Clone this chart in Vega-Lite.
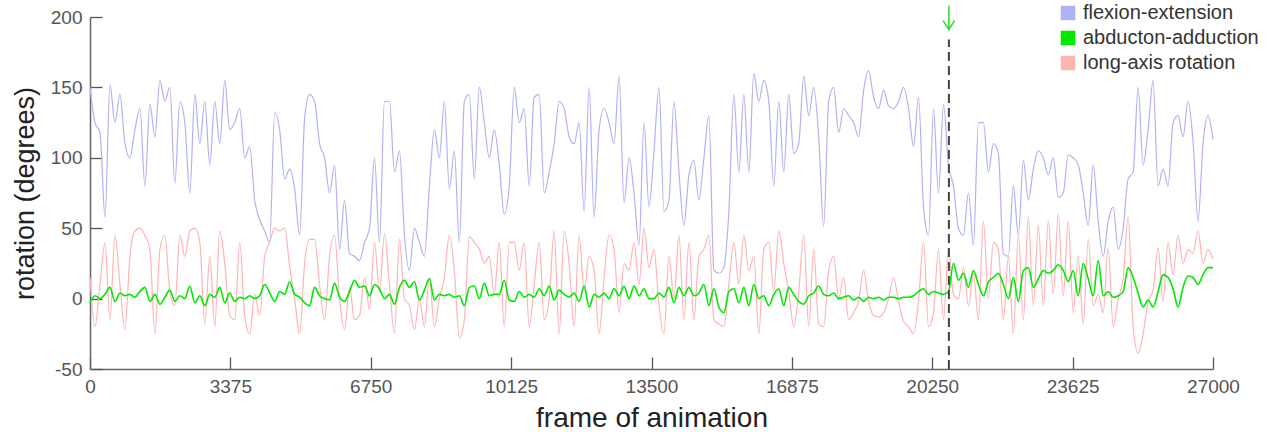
{
"$schema":"https://vega.github.io/schema/vega-lite/v6.json",
"width":1123,"height":352,
"autosize":{"type":"none"},
"padding":{"left":90,"top":17,"right":56,"bottom":63},
"background":"white",
"config":{"view":{"stroke":null},"font":"Liberation Sans"},
"datasets":{"rot":[
{"f":0,"fe":150,"la":15,"aa":-3},{"f":120,"fe":125,"la":-20,"aa":2},{"f":240,"fe":118,"la":10,"aa":0},{"f":360,"fe":58,"la":40,"aa":3},{"f":480,"fe":152,"la":-15,"aa":8},{"f":600,"fe":125,"la":45,"aa":-2},{"f":720,"fe":145,"la":10,"aa":4},{"f":840,"fe":110,"la":-22,"aa":2},{"f":960,"fe":100,"la":30,"aa":3},{"f":1080,"fe":120,"la":48,"aa":1},
{"f":1200,"fe":135,"la":50,"aa":5},{"f":1320,"fe":80,"la":45,"aa":8},{"f":1440,"fe":138,"la":35,"aa":-2},{"f":1560,"fe":115,"la":-25,"aa":3},{"f":1680,"fe":155,"la":35,"aa":-4},{"f":1800,"fe":140,"la":45,"aa":1},{"f":1920,"fe":150,"la":5,"aa":6},{"f":2040,"fe":82,"la":-5,"aa":-2},{"f":2160,"fe":140,"la":45,"aa":2},{"f":2280,"fe":125,"la":30,"aa":0},
{"f":2400,"fe":75,"la":48,"aa":9},{"f":2520,"fe":145,"la":50,"aa":-3},{"f":2640,"fe":110,"la":40,"aa":2},{"f":2760,"fe":140,"la":-18,"aa":-5},{"f":2880,"fe":95,"la":30,"aa":3},{"f":3000,"fe":140,"la":-20,"aa":1},{"f":3120,"fe":110,"la":48,"aa":8},{"f":3240,"fe":155,"la":25,"aa":-3},{"f":3360,"fe":120,"la":-12,"aa":4},
{"f":3480,"fe":125,"la":-15,"aa":-2},{"f":3600,"fe":135,"la":40,"aa":1},{"f":3720,"fe":100,"la":-12,"aa":0},{"f":3840,"fe":108,"la":-25,"aa":2},{"f":3960,"fe":70,"la":3,"aa":0},{"f":4080,"fe":56,"la":-12,"aa":2},{"f":4200,"fe":48,"la":30,"aa":10},{"f":4320,"fe":40,"la":40,"aa":4},{"f":4440,"fe":132,"la":50,"aa":-2},{"f":4560,"fe":120,"la":48,"aa":5},
{"f":4680,"fe":85,"la":50,"aa":3},{"f":4800,"fe":92,"la":23,"aa":12},{"f":4920,"fe":78,"la":0,"aa":3},{"f":5040,"fe":45,"la":-25,"aa":1},{"f":5160,"fe":128,"la":25,"aa":-3},{"f":5280,"fe":145,"la":42,"aa":-5},{"f":5400,"fe":140,"la":42,"aa":8},{"f":5520,"fe":110,"la":10,"aa":2},{"f":5640,"fe":100,"la":-15,"aa":0},{"f":5760,"fe":75,"la":30,"aa":-1},
{"f":5880,"fe":95,"la":45,"aa":11},{"f":6000,"fe":35,"la":0,"aa":1},{"f":6120,"fe":70,"la":-22,"aa":-2},{"f":6240,"fe":32,"la":8,"aa":5},{"f":6360,"fe":30,"la":-15,"aa":13},{"f":6480,"fe":27,"la":-12,"aa":8},{"f":6600,"fe":40,"la":15,"aa":9},
{"f":6720,"fe":50,"la":-8,"aa":2},{"f":6840,"fe":100,"la":40,"aa":10},{"f":6960,"fe":40,"la":5,"aa":7},{"f":7080,"fe":140,"la":46,"aa":0},{"f":7200,"fe":140,"la":10,"aa":3},{"f":7320,"fe":90,"la":-25,"aa":-4},{"f":7440,"fe":105,"la":42,"aa":8},{"f":7560,"fe":45,"la":0,"aa":13},{"f":7680,"fe":20,"la":-5,"aa":8},{"f":7800,"fe":50,"la":-22,"aa":12},
{"f":7920,"fe":40,"la":0,"aa":-1},{"f":8040,"fe":30,"la":-20,"aa":6},{"f":8160,"fe":80,"la":15,"aa":14},{"f":8280,"fe":120,"la":-20,"aa":-1},{"f":8400,"fe":100,"la":0,"aa":3},{"f":8520,"fe":140,"la":15,"aa":2},{"f":8640,"fe":78,"la":45,"aa":3},{"f":8760,"fe":105,"la":20,"aa":1},{"f":8880,"fe":40,"la":-28,"aa":2},{"f":9000,"fe":140,"la":-15,"aa":-5},
{"f":9120,"fe":145,"la":44,"aa":8},{"f":9240,"fe":85,"la":40,"aa":9},{"f":9360,"fe":150,"la":35,"aa":0},{"f":9480,"fe":125,"la":25,"aa":11},{"f":9600,"fe":100,"la":30,"aa":2},{"f":9720,"fe":120,"la":3,"aa":3},{"f":9840,"fe":95,"la":40,"aa":3},{"f":9960,"fe":60,"la":-20,"aa":13},{"f":10080,"fe":80,"la":40,"aa":-1},
{"f":10200,"fe":150,"la":40,"aa":-2},{"f":10320,"fe":125,"la":20,"aa":5},{"f":10440,"fe":135,"la":40,"aa":1},{"f":10560,"fe":80,"la":-20,"aa":3},{"f":10680,"fe":143,"la":10,"aa":1},{"f":10800,"fe":145,"la":40,"aa":7},{"f":10920,"fe":75,"la":-15,"aa":2},{"f":11040,"fe":90,"la":0,"aa":9},{"f":11160,"fe":110,"la":48,"aa":-1},{"f":11280,"fe":140,"la":-25,"aa":6},
{"f":11400,"fe":135,"la":48,"aa":3},{"f":11520,"fe":115,"la":25,"aa":1},{"f":11640,"fe":110,"la":-20,"aa":4},{"f":11760,"fe":125,"la":45,"aa":-2},{"f":11880,"fe":62,"la":5,"aa":9},{"f":12000,"fe":150,"la":30,"aa":-6},{"f":12120,"fe":58,"la":20,"aa":3},{"f":12240,"fe":120,"la":-25,"aa":1},{"f":12360,"fe":135,"la":15,"aa":4},{"f":12480,"fe":125,"la":45,"aa":0},
{"f":12600,"fe":110,"la":35,"aa":7},{"f":12720,"fe":158,"la":-10,"aa":2},{"f":12840,"fe":68,"la":25,"aa":9},{"f":12960,"fe":100,"la":20,"aa":0},{"f":13080,"fe":75,"la":40,"aa":9},{"f":13200,"fe":38,"la":10,"aa":2},{"f":13320,"fe":125,"la":50,"aa":7},{"f":13440,"fe":65,"la":22,"aa":0},
{"f":13560,"fe":105,"la":35,"aa":0},{"f":13680,"fe":150,"la":-5,"aa":4},{"f":13800,"fe":62,"la":-25,"aa":1},{"f":13920,"fe":70,"la":30,"aa":8},{"f":14040,"fe":140,"la":0,"aa":-3},{"f":14160,"fe":90,"la":45,"aa":8},{"f":14280,"fe":52,"la":-15,"aa":2},{"f":14400,"fe":88,"la":40,"aa":8},{"f":14520,"fe":98,"la":-15,"aa":2},{"f":14640,"fe":70,"la":30,"aa":4},
{"f":14760,"fe":100,"la":35,"aa":10},{"f":14880,"fe":130,"la":45,"aa":-5},{"f":15000,"fe":20,"la":-15,"aa":7},{"f":15120,"fe":18,"la":-18,"aa":-6},{"f":15240,"fe":22,"la":-20,"aa":-10},{"f":15360,"fe":62,"la":10,"aa":5},{"f":15480,"fe":145,"la":40,"aa":7},{"f":15600,"fe":90,"la":10,"aa":-3},{"f":15720,"fe":145,"la":45,"aa":8},{"f":15840,"fe":90,"la":20,"aa":-5},
{"f":15960,"fe":160,"la":30,"aa":10},{"f":16080,"fe":140,"la":-25,"aa":0},{"f":16200,"fe":155,"la":35,"aa":2},{"f":16320,"fe":140,"la":40,"aa":-5},{"f":16440,"fe":80,"la":5,"aa":3},{"f":16560,"fe":140,"la":48,"aa":7},{"f":16680,"fe":90,"la":25,"aa":-5},{"f":16800,"fe":145,"la":5,"aa":8},
{"f":16920,"fe":103,"la":-20,"aa":3},{"f":17040,"fe":110,"la":5,"aa":-2},{"f":17160,"fe":158,"la":45,"aa":-4},{"f":17280,"fe":130,"la":-20,"aa":2},{"f":17400,"fe":150,"la":35,"aa":4},{"f":17520,"fe":115,"la":-18,"aa":9},{"f":17640,"fe":51,"la":-20,"aa":3},{"f":17760,"fe":140,"la":20,"aa":2},{"f":17880,"fe":150,"la":30,"aa":4},{"f":18000,"fe":118,"la":0,"aa":0},
{"f":18120,"fe":135,"la":15,"aa":1},{"f":18240,"fe":130,"la":-15,"aa":2},{"f":18360,"fe":125,"la":-10,"aa":-1},{"f":18480,"fe":115,"la":-2,"aa":1},{"f":18600,"fe":148,"la":20,"aa":-2},{"f":18720,"fe":162,"la":-2,"aa":1},{"f":18840,"fe":143,"la":-12,"aa":0},{"f":18960,"fe":135,"la":-13,"aa":1},{"f":19080,"fe":148,"la":-10,"aa":-1},{"f":19200,"fe":137,"la":0,"aa":1},
{"f":19320,"fe":135,"la":15,"aa":1},{"f":19440,"fe":140,"la":-2,"aa":0},{"f":19560,"fe":150,"la":-16,"aa":1},{"f":19680,"fe":135,"la":-20,"aa":1},{"f":19800,"fe":108,"la":-25,"aa":2},{"f":19920,"fe":143,"la":-2,"aa":5},{"f":20040,"fe":65,"la":40,"aa":7},{"f":20160,"fe":45,"la":-20,"aa":3},
{"f":20280,"fe":135,"la":-10,"aa":5},{"f":20400,"fe":75,"la":35,"aa":4},{"f":20520,"fe":138,"la":-15,"aa":3},{"f":20640,"fe":95,"la":35,"aa":5},{"f":20760,"fe":80,"la":3,"aa":25},{"f":20880,"fe":50,"la":0,"aa":13},{"f":21000,"fe":45,"la":22,"aa":18},{"f":21120,"fe":75,"la":-5,"aa":8},{"f":21240,"fe":38,"la":18,"aa":20},{"f":21360,"fe":125,"la":-15,"aa":10},
{"f":21480,"fe":125,"la":55,"aa":2},{"f":21600,"fe":90,"la":0,"aa":12},{"f":21720,"fe":110,"la":40,"aa":15},{"f":21840,"fe":103,"la":35,"aa":18},{"f":21960,"fe":32,"la":-15,"aa":10},{"f":22080,"fe":30,"la":30,"aa":0},{"f":22200,"fe":80,"la":-25,"aa":15},{"f":22320,"fe":45,"la":45,"aa":-2},{"f":22440,"fe":98,"la":-15,"aa":20},{"f":22560,"fe":70,"la":58,"aa":22},
{"f":22680,"fe":92,"la":-5,"aa":8},{"f":22800,"fe":105,"la":52,"aa":14},{"f":22920,"fe":100,"la":-5,"aa":20},{"f":23040,"fe":88,"la":55,"aa":18},{"f":23160,"fe":100,"la":3,"aa":20},{"f":23280,"fe":72,"la":60,"aa":24},{"f":23400,"fe":75,"la":2,"aa":20},{"f":23520,"fe":102,"la":55,"aa":12},
{"f":23640,"fe":100,"la":-10,"aa":20},{"f":23760,"fe":95,"la":30,"aa":2},{"f":23880,"fe":75,"la":-18,"aa":25},{"f":24000,"fe":52,"la":42,"aa":14},{"f":24120,"fe":95,"la":-5,"aa":2},{"f":24240,"fe":55,"la":3,"aa":27},{"f":24360,"fe":30,"la":-10,"aa":2},{"f":24480,"fe":55,"la":36,"aa":5},{"f":24600,"fe":65,"la":-20,"aa":1},{"f":24720,"fe":35,"la":0,"aa":2},
{"f":24840,"fe":50,"la":14,"aa":5},{"f":24960,"fe":85,"la":58,"aa":22},{"f":25080,"fe":90,"la":-20,"aa":15},{"f":25200,"fe":150,"la":-39,"aa":4},{"f":25320,"fe":95,"la":-25,"aa":-6},{"f":25440,"fe":120,"la":-2,"aa":-1},{"f":25560,"fe":155,"la":6,"aa":-6},{"f":25680,"fe":80,"la":36,"aa":5},{"f":25800,"fe":92,"la":-2,"aa":17},{"f":25920,"fe":80,"la":40,"aa":15},
{"f":26040,"fe":125,"la":17,"aa":7},{"f":26160,"fe":130,"la":45,"aa":-6},{"f":26280,"fe":115,"la":25,"aa":8},{"f":26400,"fe":140,"la":35,"aa":16},{"f":26520,"fe":112,"la":32,"aa":15},{"f":26640,"fe":55,"la":48,"aa":10},{"f":26760,"fe":110,"la":25,"aa":17},{"f":26880,"fe":130,"la":35,"aa":22},{"f":27000,"fe":113,"la":28,"aa":22}
]},
"layer":[
{"data":{"name":"rot"},"transform":[{"fold":["fe","aa","la"],"as":["s","v"]},{"filter":"datum.s==='fe'"}],
 "mark":{"type":"line","strokeWidth":1.2,"clip":false,"interpolate":"monotone"},
 "encoding":{
  "x":{"field":"f","type":"quantitative","scale":{"domain":[0,27000],"nice":false,"zero":false},
   "axis":{"title":"frame of animation","values":[0,3375,6750,10125,13500,16875,20250,23625,27000],"format":"d","grid":false,"tickSize":-12,"tickColor":"#555","tickWidth":1.3,"domainColor":"#666","domainWidth":1.5,"labelFontSize":19,"labelColor":"#555","labelPadding":20,"labelFlush":false,"titleFontSize":28,"titleFontWeight":"normal","titleColor":"#222","titlePadding":8}},
  "y":{"field":"v","type":"quantitative","scale":{"domain":[-50,200],"nice":false,"zero":false},
   "axis":{"title":"rotation (degrees)","values":[-50,0,50,100,150,200],"labelExpr":"'' + datum.value","grid":false,"tickSize":-12,"tickColor":"#555","tickWidth":1.3,"domainColor":"#666","domainWidth":1.5,"labelFontSize":19,"labelColor":"#555","labelPadding":20,"titleFontSize":27,"titleFontWeight":"normal","titleColor":"#222","titlePadding":11}},
  "color":{"field":"s","type":"nominal","scale":{"domain":["fe","aa","la"],"range":["#b0b2f6","#00e800","#ffb4b4"]},
   "legend":{"orient":"none","legendX":968,"legendY":-14,"title":null,"symbolType":"square","symbolSize":170,"labelFontSize":20,"labelColor":"#333","labelLimit":400,"rowPadding":5,"labelOffset":5,
    "labelExpr":"datum.label === 'fe' ? 'flexion-extension' : datum.label === 'aa' ? 'abducton-adduction' : 'long-axis rotation'",
    "encode":{"symbols":{"update":{"fill":{"scale":"color","field":"value"},"stroke":{"value":"transparent"},"opacity":{"value":1}}}}}}
 }},
{"data":{"name":"rot"},"transform":[{"fold":["fe","aa","la"],"as":["s","v"]},{"filter":"datum.s==='la'"}],
 "mark":{"type":"line","strokeWidth":1.2,"clip":false,"interpolate":"monotone"},
 "encoding":{"x":{"field":"f","type":"quantitative"},"y":{"field":"v","type":"quantitative"},"color":{"field":"s","type":"nominal"}}},
{"data":{"name":"rot"},"transform":[{"fold":["fe","aa","la"],"as":["s","v"]},{"filter":"datum.s==='aa'"}],
 "mark":{"type":"line","strokeWidth":1.6,"clip":false,"interpolate":"monotone"},
 "encoding":{"x":{"field":"f","type":"quantitative"},"y":{"field":"v","type":"quantitative"},"color":{"field":"s","type":"nominal"}}},
{"data":{"values":[{"f":20650,"lo":-50,"hi":184}]},
 "mark":{"type":"rule","color":"#444","strokeWidth":2,"strokeDash":[9,5]},
 "encoding":{"x":{"field":"f","type":"quantitative"},"y":{"field":"lo","type":"quantitative"},"y2":{"field":"hi"}}},
{"data":{"values":[{"f":20650,"top":208,"tip":191}]},
 "mark":{"type":"rule","color":"#22dd22","strokeWidth":1.5},
 "encoding":{"x":{"field":"f","type":"quantitative"},"y":{"field":"top","type":"quantitative"},"y2":{"field":"tip"}}},
{"data":{"values":[{"f":20650,"tip":191}]},
 "mark":{"type":"point","shape":"M-1,-1.6L0,0L1,-1.6","size":130,"filled":false,"stroke":"#22dd22","strokeWidth":1.5,"opacity":1},
 "encoding":{"x":{"field":"f","type":"quantitative"},"y":{"field":"tip","type":"quantitative"}}}
]
}
